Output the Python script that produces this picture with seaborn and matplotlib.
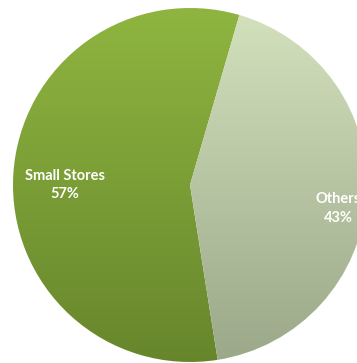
import numpy as np
import matplotlib
matplotlib.use("Agg")
import matplotlib.pyplot as plt
import seaborn as sns
from matplotlib.colors import LinearSegmentedColormap

categories = ["Small Stores", "Others"]
shares = [57, 43]
top_colors = ["#8fb540", "#d3e1bd"]
bottom_colors = ["#67862c", "#9ba889"]
label_dist = [0.71, 0.84]
label_dy = [-8, -14]

sns.set_theme(style="white")
plt.rcParams['font.family'] = ['Lato', 'DejaVu Sans']

fig = plt.figure(figsize=(3.57, 3.63), dpi=100)
ax = fig.add_axes([0, 0, 1, 1])

cx, cy, r = 190, 178, 177
wedges, _ = ax.pie(shares, startangle=-81, counterclock=False,
                   center=(cx, cy), radius=r, frame=True,
                   wedgeprops=dict(linewidth=0))

grad = np.linspace(0, 1, 256).reshape(-1, 1)
for w, tc, bc, name, d, dy in zip(wedges, top_colors, bottom_colors, categories, label_dist, label_dy):
    w.set_facecolor('none')
    cmap = LinearSegmentedColormap.from_list('g', [bc, tc])
    im = ax.imshow(grad, cmap=cmap, aspect='auto', origin='lower',
                   extent=(cx - r, cx + r, cy - r, cy + r), zorder=1)
    im.set_clip_path(w)
    theta = np.deg2rad((w.theta1 + w.theta2) / 2)
    share = shares[categories.index(name)]
    ax.text(cx + d * r * np.cos(theta), cy + d * r * np.sin(theta) + dy,
            f"{name}\n{share}%", ha='center', va='center', color='white',
            fontsize=10.5, fontweight='bold', zorder=3, linespacing=1.4)

ax.set_xlim(0, 357)
ax.set_ylim(0, 363)
ax.set_aspect('equal')
ax.axis('off')
fig.savefig("out.png", dpi=100)
